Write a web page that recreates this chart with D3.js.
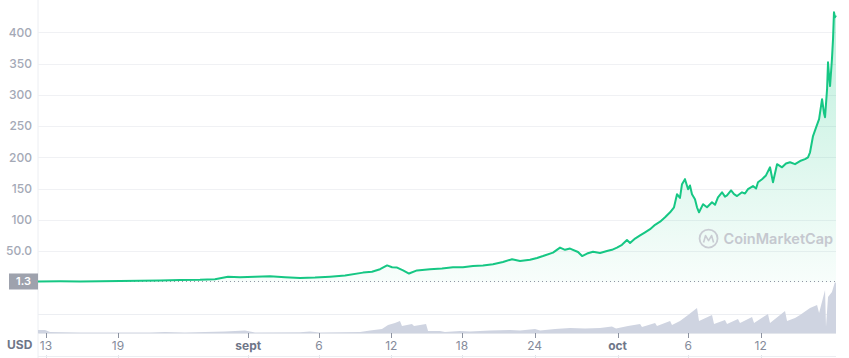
<!DOCTYPE html>
<html>
<head>
<meta charset="utf-8">
<script src="https://cdn.jsdelivr.net/npm/d3@7/dist/d3.min.js"></script>
<style>
  html, body { margin: 0; padding: 0; background: #fff; }
  svg { display: block; font-family: Inter, "Noto Sans", sans-serif; }
</style>
</head>
<body>
<svg id="chart" width="849" height="358"></svg>
<script>
// ---- data (days since start of window) ----
const priceDays = [0,1.85,3.53,5.21,6.89,8.56,10.24,11.92,13.60,14.86,15.95,16.96,18.22,19.48,20.74,22.00,23.26,24.52,25.78,27.29,28.04,28.72,29.31,29.73,30.15,30.65,31.15,31.82,32.91,33.92,34.84,35.68,36.52,37.36,38.20,39.04,39.80,40.47,41.31,41.90,42.40,43.24,43.83,44.25,44.67,45.34,45.68,46.10,46.60,47.19,47.77,48.19,48.61,49.03,49.45,49.71,50.13,50.55,50.97,51.39,51.81,52.23,52.65,53.07,53.40,53.65,53.90,54.07,54.32,54.58,54.74,54.91,55.16,55.33,55.50,55.84,56.17,56.59,56.84,57.09,57.43,57.68,57.85,58.19,58.44,58.69,59.11,59.36,59.61,60.03,60.29,60.45,60.79,61.12,61.46,61.71,62.05,62.47,62.80,63.14,63.56,63.98,64.40,64.65,64.82,65.07,65.33,65.58,65.83,66.00,66.08,66.25,66.33,66.42,66.50,66.66,66.75,66.83,66.91,67.00];
const priceValues = [1.3,1.5,1.4,1.8,2.0,2.5,2.8,3.5,4.0,5,9,8,9,9.5,8,7,7.5,9,11,15.5,17,21,27,24,23.5,19,14,19,21,22,24,24,26,27,29,32.5,37,34,36,39,42,47.5,55.5,52,54,48.5,42,46,49,47,50,52,55.5,60,67.7,63,70,75,80,85,92,97,104,112,120,141,135,157,165,149,155,141,133,120,112,125,120,128,124,136,144,137,139,147,141,138,144,142,149,154,150,160,165,171,184,160,189,184,190,192,189,194,197,200,208,234,248,261,293,270,264,309,352,330,314,357,389,432,424,427];

const volDays = [0,0.59,1.01,3.53,9.40,10.66,12.34,15.70,17.38,18.22,22.00,22.84,23.68,27.04,27.88,28.88,29.39,29.97,30.39,30.56,31.40,31.57,32.58,32.75,33.75,34.17,35.43,36.27,37.95,39.63,40.47,41.73,42.15,43.41,44.67,45.93,47.19,48.19,48.53,49.54,50.55,50.71,51.81,51.97,53.07,53.23,53.90,54.58,55.33,55.50,56.59,56.76,57.68,57.85,58.77,58.94,59.95,60.12,61.29,61.46,62.72,62.89,63.56,63.98,64.82,65.41,65.58,66.08,66.16,66.33,66.66,66.91,67.00];
const volValues = [3,3,1,0.5,0.5,1,0.5,1.5,2.5,0.5,0.8,1.5,0.5,1,2.5,4,8,10,12,7,9,7,9,2,2,1,2,1.5,2.5,3,2.5,4,2.5,4,5,4.5,5,6.5,4.5,7,9,6,10,7,12,8,12,18,25,12,18,9,13,9,14,10,16,10,19,10,22,12,15,18,25,28,20,43,6,36,41,51,50];

const yTicks = [50,100,150,200,250,300,350,400];
const yTickLabels = ["50.0","100","150","200","250","300","350","400"];
const xTickDays = [0.67,6.72,17.65,23.6,29.66,35.6,41.7,48.66,54.6,60.67];
const xTickLabels = ["13","19","sept","6","12","18","24","oct","6","12"];
const monthLabels = ["sept","oct"];
const currentPrice = 1.3;

// ---- scales ----
const svg = d3.select("#chart");
const x = d3.scaleLinear().domain([0, 67]).range([38, 836]);
const y = d3.scaleLinear().domain([0, 400]).range([282.3, 32.3]);
const yv = d3.scaleLinear().domain([0, 50]).range([333, 283]);

// gradient
const defs = svg.append("defs");
const grad = defs.append("linearGradient").attr("id", "g").attr("gradientUnits", "userSpaceOnUse")
  .attr("x1", 0).attr("x2", 0).attr("y1", y(430)).attr("y2", y(0));
grad.append("stop").attr("offset", 0).attr("stop-color", "#16c784").attr("stop-opacity", 0.28);
grad.append("stop").attr("offset", 1).attr("stop-color", "#16c784").attr("stop-opacity", 0.03);

// vertical axis line
svg.append("line").attr("x1", 38).attr("x2", 38).attr("y1", 0).attr("y2", 358)
  .attr("stroke", "#eceef2").attr("stroke-width", 1);

// price gridlines + labels
const gy = svg.append("g");
yTicks.forEach((t, i) => {
  gy.append("line").attr("x1", 38).attr("x2", 836).attr("y1", Math.round(y(t)) + 0.5).attr("y2", Math.round(y(t)) + 0.5)
    .attr("stroke", "#f0f1f4");
  gy.append("text").attr("x", 32).attr("y", y(t)).attr("dy", "0.35em").attr("text-anchor", "end")
    .attr("fill", "#a4a9b6").attr("font-size", 12).attr("font-weight", 500).text(yTickLabels[i]);
});

// volume panel gridline and baseline
svg.append("line").attr("x1", 38).attr("x2", 836).attr("y1", 314.5).attr("y2", 314.5).attr("stroke", "#eceef2");
svg.append("line").attr("x1", 38).attr("x2", 836).attr("y1", 333.5).attr("y2", 333.5).attr("stroke", "#e3e6ec");

// volume area
const vArea = d3.area().x((d, i) => x(volDays[i])).y0(yv(0)).y1((d) => yv(d)).curve(d3.curveLinear);
svg.append("path").datum(volValues).attr("d", vArea).attr("fill", "#cfd4e1");

// price area + line
const pts = priceValues.map((v, i) => [priceDays[i], v]);
const area = d3.area().x(d => x(d[0])).y0(y(0)).y1(d => y(d[1]));
svg.append("path").datum(pts).attr("d", area).attr("fill", "url(#g)");

// dotted current-price line
svg.append("line").attr("x1", 38).attr("x2", 836).attr("y1", y(currentPrice)).attr("y2", y(currentPrice))
  .attr("stroke", "#8f95a3").attr("stroke-width", 1).attr("stroke-dasharray", "1,3");

const line = d3.line().x(d => x(d[0])).y(d => y(d[1]));
svg.append("path").datum(pts).attr("d", line).attr("fill", "none")
  .attr("stroke", "#16c784").attr("stroke-width", 2).attr("stroke-linejoin", "round");

// current price box
const by = y(currentPrice);
svg.append("rect").attr("x", 9).attr("y", by - 8).attr("width", 29).attr("height", 16).attr("fill", "#9ea2ad");
svg.append("text").attr("x", 23.5).attr("y", by).attr("dy", "0.35em").attr("text-anchor", "middle")
  .attr("fill", "#fff").attr("font-size", 11).attr("font-weight", 600).text(String(currentPrice));

// watermark
const wm = svg.append("g").attr("transform", `translate(${x(56.3)},${y(70)})`);
wm.append("circle").attr("cx", 0).attr("cy", 0).attr("r", 9).attr("fill", "none").attr("stroke", "#c9ccd3").attr("stroke-width", 1.8);
wm.append("path").attr("d", "M-5,4 L-3,-3 L0,2 L3,-3 L5,4").attr("fill", "none").attr("stroke", "#c9ccd3").attr("stroke-width", 1.6).attr("stroke-linejoin", "round");
wm.append("text").attr("x", 15).attr("y", 0).attr("dy", "0.36em").attr("fill", "#c5c8cf")
  .attr("font-size", 14.5).attr("font-weight", 600).text("CoinMarketCap");

// x axis ticks + labels
const gx = svg.append("g");
xTickDays.forEach((d, i) => {
  const px = Math.round(x(d)) + 0.5;
  gx.append("line").attr("x1", px).attr("x2", px).attr("y1", 333).attr("y2", 338).attr("stroke", "#8d93a1");
  gx.append("line").attr("x1", px).attr("x2", px).attr("y1", 355).attr("y2", 358).attr("stroke", "#dfe2e8");
  const isMonth = monthLabels.includes(xTickLabels[i]);
  gx.append("text").attr("x", x(d)).attr("y", 346).attr("dy", "0.35em").attr("text-anchor", "middle")
    .attr("fill", isMonth ? "#6f7688" : "#858b9b").attr("font-size", 12)
    .attr("font-weight", isMonth ? 700 : 400).text(xTickLabels[i]);
});
svg.append("line").attr("x1", 38).attr("x2", 836).attr("y1", 356.5).attr("y2", 356.5).attr("stroke", "#eceef2");

// USD label
svg.append("text").attr("x", 7).attr("y", 345).attr("dy", "0.35em").attr("fill", "#6f7688")
  .attr("font-size", 12).attr("font-weight", 700).text("USD");
</script>
</body>
</html>
